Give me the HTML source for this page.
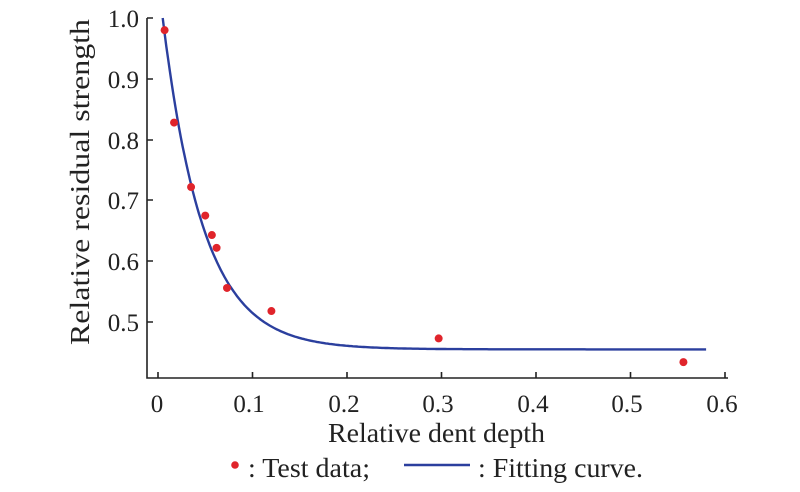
<!DOCTYPE html>
<html><head><meta charset="utf-8"><style>
html,body{margin:0;padding:0;background:#fff;}
svg{display:block;font-family:"Liberation Serif",serif;}
</style></head><body>
<svg id="s" width="800" height="492" viewBox="0 0 800 492" xmlns="http://www.w3.org/2000/svg">
<g stroke="#222" stroke-width="1.6" fill="none">
<path d="M147 18 V378 H728"/>
<path d="M147 18 h6 M147 79 h6 M147 140 h6 M147 200 h6 M147 261 h6 M147 322 h6"/>
<path d="M158 378 v-6 M252.5 378 v-6 M347 378 v-6 M441.5 378 v-6 M536 378 v-6 M630.5 378 v-6 M725 378 v-6"/>
</g>
<g font-size="25" fill="#222" text-anchor="end">
<text x="139" y="27">1.0</text><text x="139" y="88">0.9</text><text x="139" y="149">0.8</text>
<text x="139" y="209">0.7</text><text x="139" y="270">0.6</text><text x="139" y="331">0.5</text>
</g>
<g font-size="25" fill="#222" text-anchor="middle">
<text x="157" y="412">0</text><text x="249" y="412">0.1</text><text x="344" y="412">0.2</text>
<text x="438" y="412">0.3</text><text x="533" y="412">0.4</text><text x="627" y="412">0.5</text><text x="722" y="412">0.6</text>
</g>
<g font-size="27" fill="#222">
<text x="328" y="442" textLength="217" lengthAdjust="spacingAndGlyphs">Relative dent depth</text>
<text transform="translate(89,345) rotate(-90)" textLength="326" lengthAdjust="spacingAndGlyphs">Relative residual strength</text>
</g>
<path id="curve" fill="none" stroke="#2b3f9e" stroke-width="2.4" d=""/>
<g id="pts" fill="#e0242b"></g>
<circle cx="235" cy="465" r="3.8" fill="#e0242b"/>
<text x="248" y="477" font-size="27" fill="#222" textLength="122" lengthAdjust="spacingAndGlyphs">: Test data;</text>
<line x1="404" y1="465" x2="470" y2="465" stroke="#2b3f9e" stroke-width="2.4"/>
<text x="478" y="477" font-size="27" fill="#222" textLength="165" lengthAdjust="spacingAndGlyphs">: Fitting curve.</text>
</svg>
<script>
function X(v){return 158+945*v;}function Y(v){return 18+(1-v)*608;}
var d="";for(var i=0;i<=300;i++){var x=0.005+0.575*i/300;var y=0.455+0.545*Math.exp(-(x-0.005)/0.043);d+=(i?"L":"M")+X(x).toFixed(1)+" "+Y(y).toFixed(1);}
document.getElementById("curve").setAttribute("d",d);
var p=[[0.007,0.98],[0.017,0.828],[0.035,0.722],[0.05,0.675],[0.057,0.643],[0.062,0.622],[0.073,0.556],[0.12,0.518],[0.297,0.473],[0.556,0.434]];
var g=document.getElementById("pts");
p.forEach(function(q){var c=document.createElementNS("http://www.w3.org/2000/svg","circle");c.setAttribute("cx",X(q[0]));c.setAttribute("cy",Y(q[1]));c.setAttribute("r","4");g.appendChild(c);});
</script>
</body></html>
